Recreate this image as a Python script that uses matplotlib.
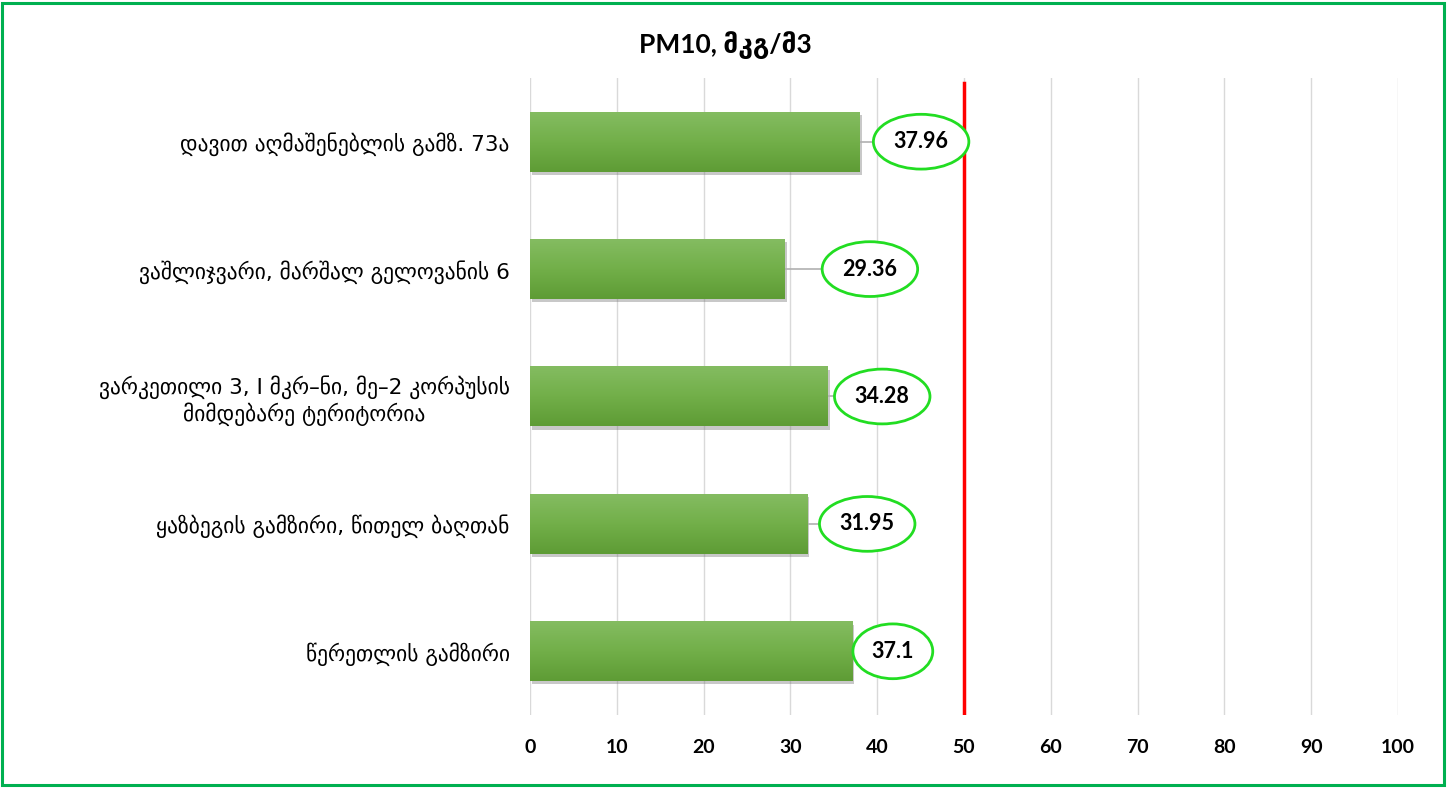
import matplotlib
matplotlib.use('Agg')
import matplotlib.pyplot as plt
import numpy as np
from matplotlib.patches import Ellipse, Rectangle
from matplotlib.colors import LinearSegmentedColormap

categories = [
    'დავით აღმაშენებლის გამზ. 73ა',
    'ვაშლიჯვარი, მარშალ გელოვანის 6',
    'ვარკეთილი 3, I მკრ–ნი, მე–2 კორპუსის\nმიმდებარე ტერიტორია',
    'ყაზბეგის გამზირი, წითელ ბაღთან',
    'წერეთლის გამზირი',
]
values = [37.96, 29.36, 34.28, 31.95, 37.1]
value_labels = ['37.96', '29.36', '34.28', '31.95', '37.1']
limit_value = 50
xticks = list(range(0, 101, 10))
title = 'PM10, მკგ/მ3'

# styling (label placement, not data)
label_offsets = [7.1, 9.8, 6.3, 6.9, 4.7]
ellipse_widths = [11.0, 11.0, 11.0, 11.0, 9.2]

fig = plt.figure(figsize=(14.48, 7.88), dpi=100)
ax = fig.add_axes([530/1448, 1-715/788, (1398-530)/1448, (715-78)/788])

n = len(categories)
ypos = [n - 1 - i for i in range(n)]
h = 0.47

cmap = LinearSegmentedColormap.from_list('g', ['#5E9C35', '#72AF49', '#84BC61'])
grad = np.linspace(0, 1, 64).reshape(-1, 1)

for i, (y, v) in enumerate(zip(ypos, values)):
    # shadow
    ax.add_patch(Rectangle((0.25, y - h/2 - 0.025), v, h, facecolor='#777777',
                           alpha=0.4, edgecolor='none', zorder=2))
    ax.imshow(grad, cmap=cmap, origin='lower', aspect='auto',
              extent=[0, v, y - h/2, y + h/2], zorder=3, interpolation='bilinear')
    cx = v + label_offsets[i]
    w = ellipse_widths[i]
    ax.plot([v, cx - w/2], [y, y], color='#b0b0b0', lw=1.2, zorder=2.5)
    ax.add_patch(Ellipse((cx, y), w, 0.43, facecolor='white', edgecolor='#22DD22',
                         lw=2, zorder=5))
    ax.text(cx, y, value_labels[i], ha='center', va='center', fontsize=15.5,
            fontweight='bold', family=['Lato', 'DejaVu Sans'], zorder=6)

ax.axvline(limit_value, color='#FF0000', lw=2.5, zorder=4, ymin=0, ymax=0.992)

ax.set_xlim(0, 100)
ax.set_ylim(-0.5, n - 0.5)
ax.set_xticks(xticks)
ax.set_xticklabels([str(t) for t in xticks], fontsize=14, fontweight='bold',
                   family=['Lato', 'DejaVu Sans'])
ax.set_yticks(ypos)
ax.set_yticklabels(categories, fontsize=15.5, family=['DejaVu Sans'],
                   multialignment='center')
ax.tick_params(axis='x', length=0, pad=17)
ax.tick_params(axis='y', length=0, pad=14.5)
ax.grid(axis='x', color='#d9d9d9', lw=1, zorder=0)
ax.set_axisbelow(True)
for s in ax.spines.values():
    s.set_visible(False)

fig.text(725/1448, 1-45/788, title, ha='center', va='center', fontsize=19,
         fontweight='bold', family=['Lato', 'DejaVu Sans'])

fig.patches.append(Rectangle((2/1448, 3/788), 1442/1448, 782/788, transform=fig.transFigure,
                             fill=False, edgecolor='#00B050', lw=2.2))

fig.savefig('out.png', dpi=100, facecolor='white')
